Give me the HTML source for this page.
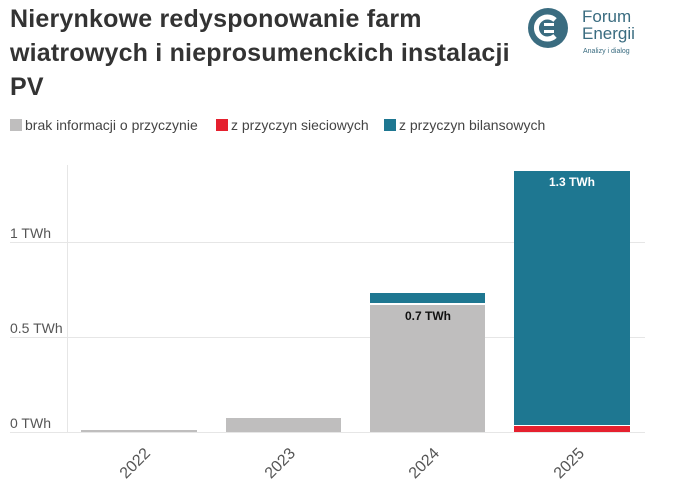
<!DOCTYPE html>
<html><head><meta charset="utf-8"><style>
body{margin:0;width:695px;height:494px;background:#fff;font-family:"Liberation Sans",sans-serif;position:relative;overflow:hidden}
.t{position:absolute;left:10px;top:2px;font-size:25px;font-weight:bold;line-height:34px;color:#333;white-space:nowrap;letter-spacing:0.2px}
.lg{position:absolute;top:117px;font-size:14px;color:#444}
.sq{display:inline-block;width:12px;height:12px;vertical-align:-1px;margin-right:3px}
.a{position:absolute;font-size:14px;color:#555}
.g{position:absolute;left:10px;width:635px;height:1px;background:#e6e6e6}
.b{position:absolute}
.yr{position:absolute;font-size:16px;color:#555;transform:rotate(-45deg);transform-origin:center}
.lab{position:absolute;font-size:12px;font-weight:bold;text-align:center;width:116px}
</style></head><body>
<div class="t">Nierynkowe redysponowanie farm<br>wiatrowych i nieprosumenckich instalacji<br>PV</div>
<svg style="position:absolute;left:528px;top:8px" width="40" height="40"><circle cx="20" cy="20" r="20" fill="#3a6c80"/><path d="M27 12 A11 11 0 1 0 27 28" stroke="#fff" stroke-width="5" fill="none"/><rect x="16" y="15" width="10" height="3" fill="#fff"/><rect x="16" y="22" width="10" height="3" fill="#fff"/></svg>
<div style="position:absolute;left:582px;top:8px;color:#3a6c80;font-size:17px;line-height:17px">Forum<br>Energii</div>
<div style="position:absolute;left:583px;top:48px;color:#3a6c80;font-size:7px">Analizy i dialog</div>
<div class="lg" style="left:10px"><span class="sq" style="background:#bfbebe"></span>brak informacji o przyczynie</div>
<div class="lg" style="left:216px"><span class="sq" style="background:#e5202e"></span>z przyczyn sieciowych</div>
<div class="lg" style="left:384px"><span class="sq" style="background:#1e7791"></span>z przyczyn bilansowych</div>
<div style="position:absolute;left:67px;top:165px;width:1px;height:267px;background:#e6e6e6"></div>
<div class="g" style="top:242px"></div><div class="g" style="top:337px"></div><div class="g" style="top:432px"></div>
<div class="a" style="left:10px;top:225px">1 TWh</div>
<div class="a" style="left:10px;top:320px">0.5 TWh</div>
<div class="a" style="left:10px;top:415px">0 TWh</div>
<div class="b" style="left:81px;top:430px;width:116px;height:2px;background:#bfbebe"></div>
<div class="b" style="left:226px;top:418px;width:115px;height:14px;background:#bfbebe"></div>
<div class="b" style="left:370px;top:305px;width:115px;height:127px;background:#bfbebe"></div>
<div class="b" style="left:370px;top:293px;width:115px;height:10px;background:#1e7791"></div>
<div class="b" style="left:514px;top:171px;width:116px;height:254px;background:#1e7791"></div>
<div class="b" style="left:514px;top:426px;width:116px;height:6px;background:#e5202e"></div>
<div class="lab" style="left:370px;top:309px;color:#111">0.7 TWh</div>
<div class="lab" style="left:514px;top:175px;color:#fff">1.3 TWh</div>
<div class="yr" style="left:118px;top:455px">2022</div>
<div class="yr" style="left:263px;top:455px">2023</div>
<div class="yr" style="left:407px;top:455px">2024</div>
<div class="yr" style="left:552px;top:455px">2025</div>
</body></html>
